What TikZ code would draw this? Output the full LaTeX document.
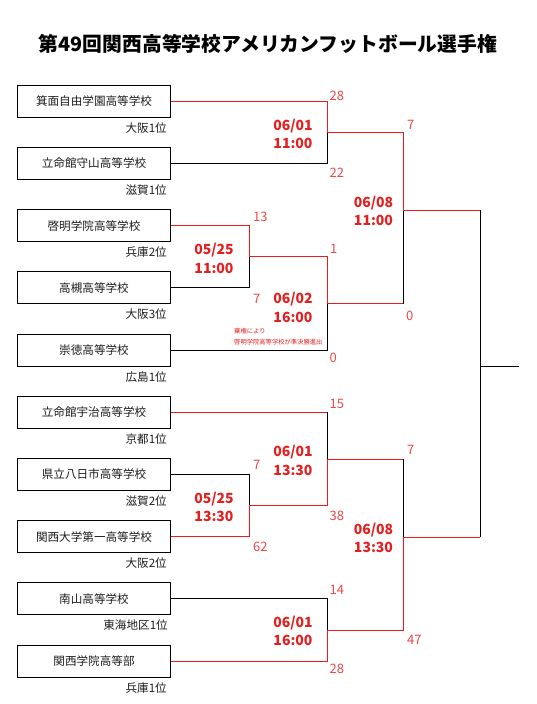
\documentclass[tikz,border=0pt]{standalone}
\usepackage{fontspec}
\setmainfont{Noto Sans CJK JP}
\definecolor{linered}{RGB}{236,28,28}
\definecolor{datered}{RGB}{226,32,32}
\definecolor{scorered}{RGB}{236,72,72}
\definecolor{txt}{RGB}{30,30,30}
\begin{document}
\begin{tikzpicture}[x=1pt,y=-1pt,
  team/.style={draw=black, line width=1pt, minimum width=153pt, minimum height=32pt, inner sep=0pt, text=txt, font=\fontsize{11.6}{12}\selectfont},
  region/.style={anchor=east, inner sep=0pt, text=txt, font=\fontsize{11.6}{12}\selectfont},
  score/.style={anchor=west, inner sep=0pt, text=scorered, font=\fontsize{13}{13}\selectfont},
  datelbl/.style={inner sep=0pt, align=center, text=datered, font=\bfseries\fontsize{14}{18.5}\selectfont},
  notelbl/.style={anchor=west, inner sep=0pt, align=left, text=datered, font=\fontsize{6.3}{11}\selectfont},
  win/.style={draw=linered, line width=1pt, line join=miter},
  lose/.style={draw=black, line width=1pt}]
\fill[white] (0,0) rectangle (536,704);
\useasboundingbox (0,0) rectangle (536,704);

\node[font=\bfseries\fontsize{19.8}{20}\selectfont] (title) at (268,44) {第49回関西高等学校アメリカンフットボール選手権};

% teams
\node[team] (b1) at (94,101.3) {箕面自由学園高等学校};
\node[team] (b2) at (94,163.5) {立命館守山高等学校};
\node[team] (b3) at (94,225.7) {啓明学院高等学校};
\node[team] (b4) at (94,287.9) {高槻高等学校};
\node[team] (b5) at (94,350.1) {崇徳高等学校};
\node[team] (b6) at (94,412.3) {立命館宇治高等学校};
\node[team] (b7) at (94,474.5) {県立八日市高等学校};
\node[team] (b8) at (94,536.7) {関西大学第一高等学校};
\node[team] (b9) at (94,598.9) {南山高等学校};
\node[team] (b10) at (94,661.1) {関西学院高等部};

% regions
\node[region] (r1) at (167,127.8) {大阪1位};
\node[region] (r2) at (167,190.0) {滋賀1位};
\node[region] (r3) at (167,252.2) {兵庫2位};
\node[region] (r4) at (167,314.4) {大阪3位};
\node[region] (r5) at (167,376.6) {広島1位};
\node[region] (r6) at (167,438.8) {京都1位};
\node[region] (r7) at (167,501.0) {滋賀2位};
\node[region] (r8) at (167,563.2) {大阪2位};
\node[region] (r9) at (168,625.4) {東海地区1位};
\node[region] (r10) at (167,687.6) {兵庫1位};

% joints
\coordinate (g1) at (327,132.4);
\coordinate (g2) at (249,256.8);
\coordinate (g3) at (327,303.5);
\coordinate (g4) at (403,210);
\coordinate (g6) at (249,505.6);
\coordinate (g5) at (327,459);
\coordinate (g7) at (327,630);
\coordinate (g8) at (403,537);
\coordinate (gf) at (480,366);
\coordinate (fin) at (518.5,366);

% G1
\draw[lose] (b2.east) -| (g1);
\draw[win] (b1.east) -| (g1);
% G2
\draw[lose] (b4.east) -| (g2);
\draw[win] (b3.east) -| (g2);
% G3
\draw[lose] (b5.east) -| (g3);
\draw[win] (g2) -| (g3);
% G4
\draw[lose] (g3 -| g4) -- (g4);
\draw[win] (g1) -| (g4);
\draw[win] (g3) -- (g3 -| g4);
% G6
\draw[lose] (b7.east) -| (g6);
\draw[win] (b8.east) -| (g6);
% G5
\draw[lose] (b6.east -| g5) -- (g5);
\draw[win] (b6.east) -- (b6.east -| g5);
\draw[win] (g6) -| (g5);
% G7
\draw[lose] (b9.east) -| (g7);
\draw[win] (b10.east) -| (g7);
% G8
\draw[lose] (g5 -| g8) -- (g8);
\draw[win] (g5) -- (g5 -| g8);
\draw[win] (g7) -| (g8);
% final
\draw[lose] (g4 -| gf) -- (gf);
\draw[lose] (g8 -| gf) -- (gf);
\draw[lose] (gf) -- (fin);
\draw[win] (g4) -- (g4 -| gf);
\draw[win] (g8) -- (g8 -| gf);

% dates
\node[datelbl] (d1) at (293,134) {06/01\\11:00};
\node[datelbl] (d2) at (214,258.5) {05/25\\11:00};
\node[datelbl] (d3) at (293,307.5) {06/02\\16:00};
\node[datelbl] (d4) at (373.5,211) {06/08\\11:00};
\node[datelbl] (d5) at (293,460.5) {06/01\\13:30};
\node[datelbl] (d6) at (214,507) {05/25\\13:30};
\node[datelbl] (d7) at (293,631) {06/01\\16:00};
\node[datelbl] (d8) at (373.5,538) {06/08\\13:30};

% scores
\node[score] (s1a) at (329.5,96) {28};
\node[score] (s1b) at (329.5,173) {22};
\node[score] (s2a) at (253,217) {13};
\node[score] (s2b) at (253,299) {7};
\node[score] (s3a) at (330,249) {1};
\node[score] (s3b) at (329.5,358) {0};
\node[score] (s4a) at (407,125) {7};
\node[score] (s4b) at (406,316) {0};
\node[score] (s5a) at (329.5,404) {15};
\node[score] (s5b) at (329.5,516) {38};
\node[score] (s6a) at (253,465) {7};
\node[score] (s6b) at (253,547) {62};
\node[score] (s7a) at (329.5,590) {14};
\node[score] (s7b) at (329.5,669) {28};
\node[score] (s8a) at (407,450) {7};
\node[score] (s8b) at (407,640) {47};

% note
\node[notelbl] (note) at (234,336.5) {棄権により\\啓明学院高等学校が準決勝進出};
\end{tikzpicture}
\end{document}
